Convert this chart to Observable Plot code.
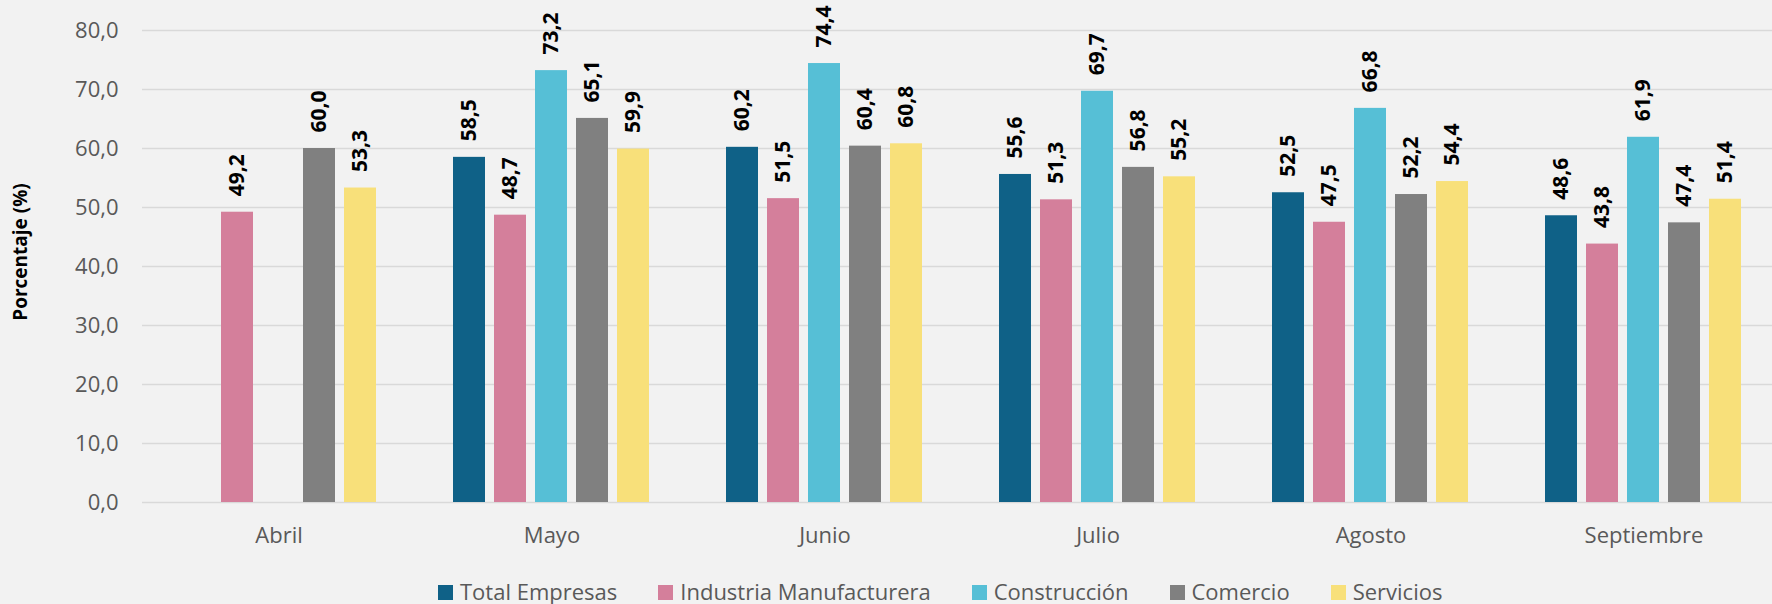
<!DOCTYPE html>
<html>
<head>
<meta charset="utf-8">
<script src="https://cdn.jsdelivr.net/npm/d3@7"></script>
<script src="https://cdn.jsdelivr.net/npm/@observablehq/plot@0.6"></script>
<style>
  html, body { margin: 0; padding: 0; background: #f2f2f2; overflow: hidden; }
  #wrap { position: relative; width: 1772px; height: 604px; font-family: "Open Sans", sans-serif; }
  #ytitle { position: absolute; left: 20px; top: 252px; transform: translate(-50%, -50%) rotate(-90deg);
            font-weight: bold; font-size: 19px; color: #000; white-space: nowrap; }
  #legend { position: absolute; left: 438px; top: 576px; display: flex; gap: 41px; font-size: 22px;
            color: #595959; line-height: 30px; white-space: nowrap; }
  .item { display: flex; align-items: center; gap: 7px; }
  .sw { width: 15px; height: 15px; display: inline-block; margin-top: 3px; }
</style>
</head>
<body>
<div id="wrap">
  <div id="chart"></div>
  <div id="ytitle">Porcentaje (%)</div>
  <div id="legend"></div>
</div>
<script>
const months = ["Abril", "Mayo", "Junio", "Julio", "Agosto", "Septiembre"];
const seriesNames = ["Total Empresas", "Industria Manufacturera", "Construcción", "Comercio", "Servicios"];
const totalEmpresas = [null, 58.5, 60.2, 55.6, 52.5, 48.6];
const industria = [49.2, 48.7, 51.5, 51.3, 47.5, 43.8];
const construccion = [null, 73.2, 74.4, 69.7, 66.8, 61.9];
const comercio = [60.0, 65.1, 60.4, 56.8, 52.2, 47.4];
const servicios = [53.3, 59.9, 60.8, 55.2, 54.4, 51.4];
const colors = ["#0f6187", "#d47f9b", "#56bfd6", "#808080", "#f8e07a"];
const yTicks = [0, 10, 20, 30, 40, 50, 60, 70, 80];

const seriesValues = [totalEmpresas, industria, construccion, comercio, servicios];
const data = [];
months.forEach((m, i) => {
  seriesNames.forEach((s, j) => {
    const v = seriesValues[j][i];
    if (v != null) data.push({month: m, series: s, value: v});
  });
});
const fmt = v => v.toFixed(1).replace(".", ",");

const chart = Plot.plot({
  width: 1772,
  height: 560,
  marginLeft: 140,
  marginRight: -10,
  marginTop: 30,
  marginBottom: 58,
  style: {background: "transparent", color: "#595959", fontFamily: "'Open Sans', sans-serif", overflow: "hidden"},
  fx: {domain: months, padding: 0},
  x: {domain: seriesNames, paddingInner: 0.214, paddingOuter: 0.867, axis: null},
  y: {domain: [0, 80]},
  color: {domain: seriesNames, range: colors},
  marks: [
    Plot.gridY(yTicks, {stroke: "#d9d9d9", strokeOpacity: 1, strokeWidth: 1.5}),
    Plot.axisY(yTicks, {tickSize: 0, tickPadding: 24, fontSize: 22, tickFormat: fmt, label: null}),
    Plot.axisFx({anchor: "bottom", tickSize: 0, tickPadding: 25, fontSize: 22, label: null}),
    Plot.barY(data, {fx: "month", x: "series", y: "value", fill: "series"}),
    Plot.text(data, {fx: "month", x: "series", y: "value", text: d => fmt(d.value), rotate: -90,
      textAnchor: "start", lineAnchor: "middle", dy: -16, fill: "#000", fontWeight: "bold", fontSize: 21})
  ]
});
document.getElementById("chart").appendChild(chart);

const legend = document.getElementById("legend");
seriesNames.forEach((s, i) => {
  const it = document.createElement("div");
  it.className = "item";
  it.innerHTML = `<span class="sw" style="background:${colors[i]}"></span><span>${s}</span>`;
  legend.appendChild(it);
});
</script>
</body>
</html>
